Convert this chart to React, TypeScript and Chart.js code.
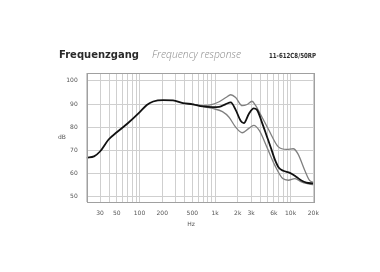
import React, { useEffect, useRef } from "react";
import { Chart, registerables } from "chart.js";

Chart.register(...registerables);

// Frequency response data (Hz, dB)
const mainFreq = [20, 25, 30, 39, 50, 70, 100, 125, 152, 206, 278, 376, 508, 686, 930, 1135, 1390, 1614, 1876, 2181, 2408, 2800, 3250, 3593, 4178, 4860, 5500, 6200, 7000, 8000, 9800, 11970, 13930, 16190, 20000];
const mainDb = [66.8, 67.4, 69.5, 74.7, 77.8, 81.7, 86.4, 89.6, 91.1, 91.7, 91.6, 90.4, 89.9, 89.0, 88.7, 88.8, 90.0, 90.7, 87.5, 82.8, 81.8, 85.7, 88.1, 87.5, 82.1, 76.0, 71.0, 66.0, 62.5, 61.2, 60.3, 58.5, 57.0, 56.1, 55.7];

const upperFreq = [508, 686, 850, 1135, 1390, 1614, 1876, 2288, 2660, 3090, 3424, 3980, 5110, 6900, 8870, 10840, 12530, 15400, 17830, 20000];
const upperDb = [89.9, 89.3, 89.5, 91.0, 92.8, 94.0, 92.8, 89.3, 89.8, 91.2, 89.5, 85.7, 79.0, 71.5, 70.4, 70.7, 68.5, 61.4, 57.0, 56.3];

const lowerFreq = [508, 686, 928, 1253, 1533, 1876, 2288, 2800, 3253, 3870, 4860, 6200, 7890, 9330, 11430, 13930, 16190, 20000];
const lowerDb = [89.9, 89.0, 88.1, 86.7, 84.3, 80.0, 77.6, 79.5, 80.8, 78.5, 71.4, 63.5, 57.8, 57.1, 57.8, 56.4, 55.7, 55.2];

const xTickValues = [30, 50, 100, 200, 500, 1000, 2000, 3000, 6000, 10000, 20000];
const xTickLabels = ["30", "50", "100", "200", "500", "1k", "2k", "3k", "6k", "10k", "20k"];
const yTickValues = [50, 60, 70, 80, 90, 100];

const titleMain = "Frequenzgang";
const titleSub = "Frequency response";
const modelCode = "11-612C8/50RP";
const yTitle = "dB";
const xTitle = "Hz";

const toPoints = (xs: number[], ys: number[]) => xs.map((x, i) => ({ x, y: ys[i] }));

function logGrid(min: number, max: number): number[] {
  const out: number[] = [];
  for (let e = 1; e <= 4; e++) {
    for (let m = 1; m <= 9; m++) {
      const v = m * Math.pow(10, e);
      if (v >= min - 1e-6 && v <= max + 1e-6) out.push(v);
    }
  }
  return out;
}

function fitText(ctx: CanvasRenderingContext2D, text: string, x: number, y: number, w: number, font: string, color: string) {
  ctx.save();
  ctx.font = font;
  ctx.fillStyle = color;
  ctx.textBaseline = "alphabetic";
  ctx.textAlign = "left";
  const m = ctx.measureText(text).width;
  ctx.translate(x, y);
  ctx.scale(w / m, 1);
  ctx.fillText(text, 0, 0);
  ctx.restore();
}

const decorPlugin = {
  id: "decor",
  afterDraw(chart: any) {
    const ctx: CanvasRenderingContext2D = chart.ctx;
    const a = chart.chartArea;
    ctx.save();
    ctx.strokeStyle = "#a0a0a0";
    ctx.lineWidth = 1;
    ctx.strokeRect(Math.round(a.left) + 0.5, Math.round(a.top) + 0.5, Math.round(a.right - a.left), Math.round(a.bottom - a.top));
    ctx.restore();

    fitText(ctx, titleMain, 59, 57.5, 80, "bold 11px 'DejaVu Sans'", "#2a2a2a");
    fitText(ctx, titleSub, 152, 57.5, 89, "italic 300 11px 'Open Sans'", "#8a8a8a");
    fitText(ctx, modelCode, 269, 57.5, 47, "bold 7px 'DejaVu Sans'", "#2a2a2a");

    ctx.save();
    ctx.fillStyle = "#555";
    ctx.font = "6px 'DejaVu Sans'";
    ctx.textAlign = "center";
    ctx.textBaseline = "middle";
    ctx.fillText(yTitle, 62, 137);
    ctx.fillText(xTitle, 191, 224.5);
    ctx.restore();
  },
};

export default function App() {
  const ref = useRef<HTMLCanvasElement | null>(null);
  useEffect(() => {
    if (!ref.current) return;
    const chart = new Chart(ref.current, {
      type: "line",
      data: {
        datasets: [
          {
            data: toPoints(mainFreq, mainDb),
            borderColor: "#111",
            borderWidth: 1.8,
            pointRadius: 0,
            cubicInterpolationMode: "monotone",
          },
          {
            data: toPoints(upperFreq, upperDb),
            borderColor: "#808080",
            borderWidth: 1.3,
            pointRadius: 0,
            cubicInterpolationMode: "monotone",
          },
          {
            data: toPoints(lowerFreq, lowerDb),
            borderColor: "#808080",
            borderWidth: 1.3,
            pointRadius: 0,
            cubicInterpolationMode: "monotone",
          },
        ],
      },
      options: {
        animation: false,
        responsive: false,
        maintainAspectRatio: false,
        layout: { padding: { left: 0, right: 66.7, top: 73, bottom: 0 } },
        plugins: { legend: { display: false }, tooltip: { enabled: false }, title: { display: false } },
        scales: {
          x: {
            type: "logarithmic",
            min: 20,
            max: 20000,
            afterFit: (s: any) => { s.height = 70; },
            afterBuildTicks: (s: any) => { s.ticks = logGrid(20, 20000).map((v) => ({ value: v })); },
            grid: { color: "#cfcfcf", lineWidth: 1, drawTicks: false },
            border: { display: false },
            ticks: {
              autoSkip: false,
              maxRotation: 0,
              padding: 8,
              color: "#555",
              font: { family: "DejaVu Sans", size: 6 },
              callback: (v: any) => {
                const i = xTickValues.findIndex((t) => Math.abs(t - Number(v)) < 1e-6);
                return i >= 0 ? xTickLabels[i] : "";
              },
            },
          },
          y: {
            type: "linear",
            min: 47.7,
            max: 103.4,
            afterFit: (s: any) => { s.width = 86.7; },
            afterBuildTicks: (s: any) => { s.ticks = yTickValues.map((v) => ({ value: v })); },
            grid: { color: "#cfcfcf", lineWidth: 1, drawTicks: false },
            border: { display: false },
            ticks: {
              padding: 9,
              color: "#555",
              font: { family: "DejaVu Sans", size: 6 },
            },
          },
        },
      },
      plugins: [decorPlugin],
    } as any);
    return () => chart.destroy();
  }, []);
  return (
    <div style={{ position: "absolute", left: 0, top: 0, width: 380, height: 272, background: "#fff" }}>
      <canvas ref={ref} width={380} height={272} style={{ width: 380, height: 272, display: "block" }} />
    </div>
  );
}
